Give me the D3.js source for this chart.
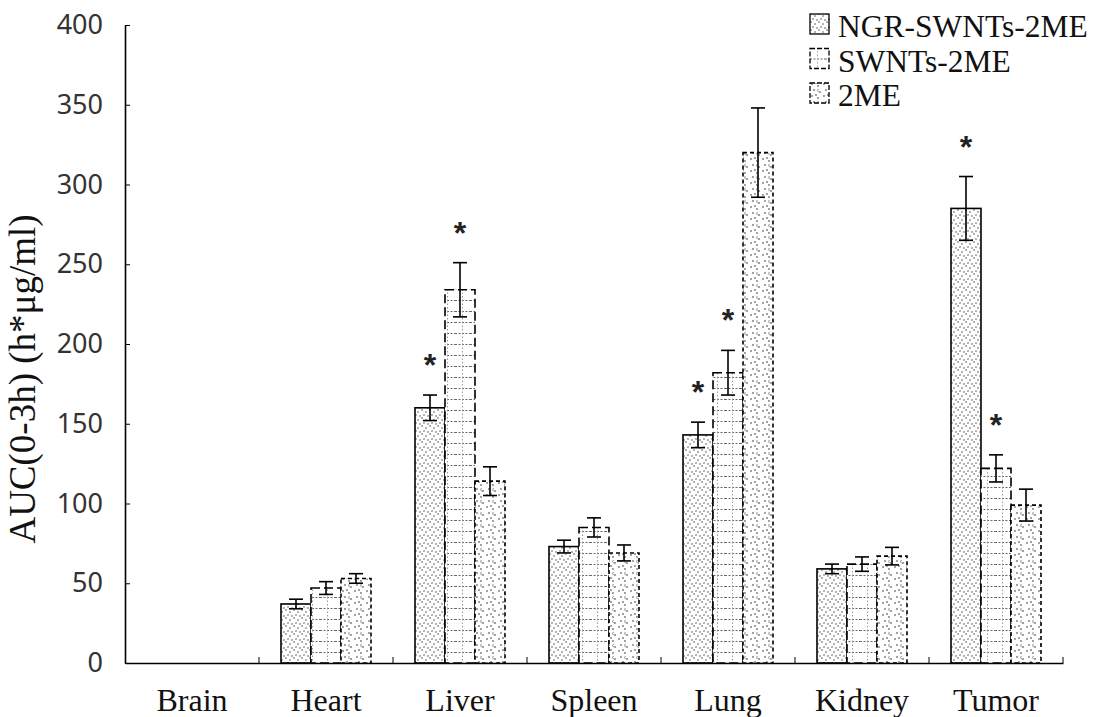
<!DOCTYPE html>
<html>
<head>
<meta charset="utf-8">
<script src="https://cdn.jsdelivr.net/npm/d3@7"></script>
<style>
  body { margin: 0; background: #fff; }
  .tick text { font-family: "Noto Sans", sans-serif; }
</style>
</head>
<body>
<svg width="1097" height="717"></svg>
<script>
// data
var organs = ["Brain", "Heart", "Liver", "Spleen", "Lung", "Kidney", "Tumor"];
var seriesNames = ["NGR-SWNTs-2ME", "SWNTs-2ME", "2ME"];
var ngrMean = [0, 37, 160, 73, 143, 59, 285];
var ngrErr  = [0, 3, 8, 4, 8, 3, 20];
var swntMean = [0, 47, 234, 85, 182, 62, 122];
var swntErr  = [0, 4, 17, 6, 14, 4.5, 8.5];
var meMean = [0, 53, 114, 69, 320, 67, 99];
var meErr  = [0, 3, 9, 5, 28, 5.5, 10];
var ngrStar  = [0, 0, 1, 0, 1, 0, 1];
var swntStar = [0, 0, 1, 0, 1, 0, 1];
var meStar   = [0, 0, 0, 0, 0, 0, 0];
var yTicks = [0, 50, 100, 150, 200, 250, 300, 350, 400];

var svg = d3.select("svg"),
    margin = { top: 25, right: 34, bottom: 54, left: 125 },
    width = +svg.attr("width") - margin.left - margin.right,
    height = +svg.attr("height") - margin.top - margin.bottom;

var series = [
  { name: seriesNames[0], mean: ngrMean, err: ngrErr, star: ngrStar, fill: "url(#pDots)", dash: null },
  { name: seriesNames[1], mean: swntMean, err: swntErr, star: swntStar, fill: "url(#pGrid)", dash: "9,4" },
  { name: seriesNames[2], mean: meMean, err: meErr, star: meStar, fill: "url(#pScatter)", dash: "4,3" }
];

// patterns
var defs = svg.append("defs");
var p1 = defs.append("pattern").attr("id", "pDots").attr("patternUnits", "userSpaceOnUse")
    .attr("width", 8).attr("height", 8);
p1.append("rect").attr("width", 8).attr("height", 8).attr("fill", "#fff");
[[1, 1], [5, 3], [3, 6], [7, 7]].forEach(function (p) {
  p1.append("circle").attr("cx", p[0]).attr("cy", p[1]).attr("r", 0.8).attr("fill", "#555");
});
var p2 = defs.append("pattern").attr("id", "pGrid").attr("patternUnits", "userSpaceOnUse")
    .attr("width", 15).attr("height", 11);
p2.append("rect").attr("width", 15).attr("height", 11).attr("fill", "#fff");
p2.append("line").attr("x1", 0).attr("x2", 15).attr("y1", 0.5).attr("y2", 0.5)
    .attr("stroke", "#666").attr("stroke-dasharray", "2,1.5");
p2.append("line").attr("x1", 7.5).attr("x2", 7.5).attr("y1", 0).attr("y2", 11)
    .attr("stroke", "#999").attr("stroke-dasharray", "1.5,2");
var p3 = defs.append("pattern").attr("id", "pScatter").attr("patternUnits", "userSpaceOnUse")
    .attr("width", 12).attr("height", 12);
p3.append("rect").attr("width", 12).attr("height", 12).attr("fill", "#fff");
[[2, 2], [8, 4], [4, 8], [10, 10], [6, 1]].forEach(function (p) {
  p3.append("circle").attr("cx", p[0]).attr("cy", p[1]).attr("r", 0.9).attr("fill", "#777");
});
p3.append("path").attr("d", "M9,7 l-2,1.5 l2,1.5").attr("fill", "none").attr("stroke", "#888").attr("stroke-width", 0.8);

var g = svg.append("g")
    .attr("transform", "translate(" + margin.left + "," + margin.top + ")");

var x0 = d3.scaleBand().domain(organs).range([0, width]).paddingInner(0).paddingOuter(0);
var x1 = d3.scaleBand().domain(seriesNames).range([x0.bandwidth() / 2 - 45, x0.bandwidth() / 2 + 45]);
var y = d3.scaleLinear().domain([0, 400]).range([height, 0]);

// bars
series.forEach(function (s) {
  var grp = g.append("g");
  grp.selectAll("rect").data(organs.filter(function (o, i) { return s.mean[i] > 0; }))
    .enter().append("rect")
    .attr("x", function (o) { return x0(o) + x1(s.name); })
    .attr("y", function (o) { return y(s.mean[organs.indexOf(o)]); })
    .attr("width", x1.bandwidth())
    .attr("height", function (o) { return height - y(s.mean[organs.indexOf(o)]); })
    .attr("fill", s.fill)
    .attr("stroke", "#000")
    .attr("stroke-width", 1.6)
    .attr("stroke-dasharray", s.dash);
});

// error bars and stars
series.forEach(function (s) {
  organs.forEach(function (o, i) {
    if (s.mean[i] <= 0) return;
    var cx = x0(o) + x1(s.name) + x1.bandwidth() / 2;
    var lo = y(s.mean[i] - s.err[i]), hi = y(s.mean[i] + s.err[i]);
    var e = g.append("g").attr("stroke", "#000").attr("stroke-width", 1.6);
    e.append("line").attr("x1", cx).attr("x2", cx).attr("y1", lo).attr("y2", hi);
    e.append("line").attr("x1", cx - 7).attr("x2", cx + 7).attr("y1", lo).attr("y2", lo);
    e.append("line").attr("x1", cx - 7).attr("x2", cx + 7).attr("y1", hi).attr("y2", hi);
    if (s.star[i]) {
      g.append("text")
        .attr("x", cx)
        .attr("y", hi - 19)
        .attr("text-anchor", "middle")
        .style("font-family", "Liberation Sans, sans-serif")
        .style("font-size", "32px")
        .style("font-weight", "bold")
        .attr("fill", "#222")
        .text("*");
    }
  });
});

// axes
var yAxis = d3.axisLeft(y).tickValues(yTicks).tickSizeInner(-5).tickSizeOuter(0).tickPadding(22);
var ya = g.append("g").attr("class", "y axis").call(yAxis);
ya.selectAll(".tick text").style("font-size", "27px").attr("fill", "#333");

var xAxis = d3.axisBottom(x0).tickSize(0).tickPadding(25);
var xa = g.append("g").attr("class", "x axis")
    .attr("transform", "translate(0," + height + ")")
    .call(xAxis);
xa.selectAll(".tick text")
    .style("font-family", "Liberation Serif, serif")
    .style("font-size", "32px")
    .attr("fill", "#111");
// category boundary ticks pointing up
xa.selectAll(".sep").data(organs.slice(1).concat(["end"]))
  .enter().append("line")
  .attr("class", "sep")
  .attr("x1", function (o) { return o === "end" ? width : x0(o); })
  .attr("x2", function (o) { return o === "end" ? width : x0(o); })
  .attr("y1", 0).attr("y2", -6)
  .attr("stroke", "#000");
g.selectAll(".domain").attr("stroke", "#000").attr("stroke-width", 1.6);
g.selectAll(".y .tick line").attr("stroke", "#000");

// y label
svg.append("text")
    .attr("transform", "rotate(-90)")
    .attr("x", -379)
    .attr("y", 35)
    .attr("text-anchor", "middle")
    .style("font-family", "Liberation Serif, serif")
    .style("font-size", "37px")
    .attr("fill", "#111")
    .text("AUC(0-3h) (h*\u03bcg/ml)");

// legend
var legend = svg.append("g").attr("transform", "translate(810,13)");
series.forEach(function (s, i) {
  var row = legend.append("g").attr("transform", "translate(0," + (i * 34.5) + ")");
  row.append("rect").attr("x", 0).attr("y", 1).attr("width", 19).attr("height", 20)
    .attr("fill", s.fill).attr("stroke", "#000").attr("stroke-width", 1.3)
    .attr("stroke-dasharray", s.dash ? "5,2" : null);
  row.append("text").attr("x", 28).attr("y", 24)
    .style("font-family", "Liberation Serif, serif")
    .style("font-size", "31.5px")
    .attr("fill", "#111")
    .text(s.name);
});
</script>
</body>
</html>
